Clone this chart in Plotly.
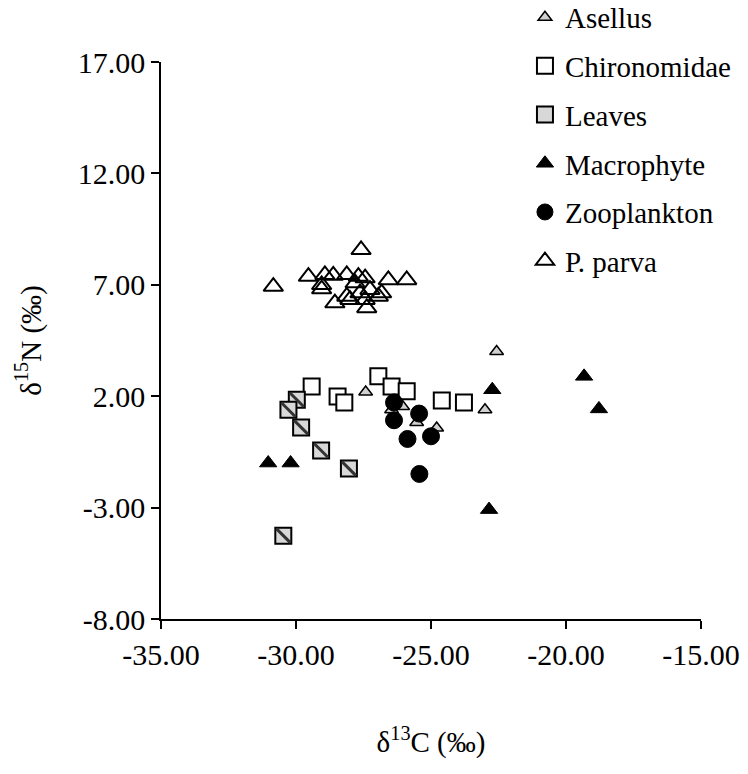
import plotly.graph_objects as go

# Stable isotope values (δ13C, δ15N) per taxon / source
asellus_c = [-27.42, -26.05, -26.46, -25.53, -24.79, -23.00, -22.57]
asellus_n = [2.19, 1.54, 1.39, 0.82, 0.57, 1.39, 4.01]

chiro_c = [-29.42, -28.46, -28.21, -26.95, -26.46, -25.90, -24.60, -23.78]
chiro_n = [2.44, 1.99, 1.72, 2.89, 2.44, 2.22, 1.81, 1.72]

leaves_c = [-29.97, -30.28, -29.81, -29.07, -28.04, -30.47]
leaves_n = [1.84, 1.39, 0.60, -0.44, -1.25, -4.26]

macro_c = [-31.03, -30.20, -22.73, -19.33, -18.78, -22.85]
macro_n = [-1.00, -1.00, 2.29, 2.89, 1.43, -3.09]

zoo_c = [-26.37, -25.44, -26.37, -25.87, -25.00, -25.43]
zoo_n = [1.72, 1.22, 0.92, 0.08, 0.20, -1.49]

parva_c = [-30.84, -27.59, -29.54, -28.93, -28.62, -28.12, -27.69, -27.44,
           -26.58, -25.90, -29.05, -29.05, -28.56, -28.12, -27.81, -28.00,
           -27.63, -27.44, -27.38, -27.26, -26.95, -26.83]
parva_n = [6.92, 8.57, 7.37, 7.45, 7.42, 7.45, 7.37, 7.30,
           7.22, 7.22, 7.00, 6.81, 6.18, 6.48, 7.08, 6.33,
           6.63, 6.33, 5.96, 6.78, 6.48, 6.63]

x_ticks = [-35, -30, -25, -20, -15]
y_ticks = [-8, -3, 2, 7, 12, 17]
x_labels = [f"{v:.2f}" for v in x_ticks]   # plain hyphen-minus
y_labels = [f"{v:.2f}" for v in y_ticks]

FONT = "Liberation Serif"

fig = go.Figure()

fig.add_trace(go.Scatter(
    x=asellus_c, y=asellus_n, mode="markers", name="Asellus", legendgroup="a",
    marker=dict(symbol="triangle-up", size=12, color="#d0d0d0",
                line=dict(color="black", width=1.5))))

fig.add_trace(go.Scatter(
    x=chiro_c, y=chiro_n, mode="markers", name="Chironomidae", legendgroup="b",
    marker=dict(symbol="square", size=16, color="white",
                line=dict(color="black", width=2))))

fig.add_trace(go.Scatter(
    x=leaves_c, y=leaves_n, mode="markers", name="Leaves", legendgroup="c",
    marker=dict(symbol="square", size=16, color="#d8d8d8",
                line=dict(color="black", width=2))))
# diagonal hatch stripe drawn over the leaf squares
fig.add_trace(go.Scatter(
    x=leaves_c, y=leaves_n, mode="markers", legendgroup="c", showlegend=False,
    hoverinfo="skip",
    marker=dict(symbol="line-nw", size=14, color="#333333",
                line=dict(color="#333333", width=3))))

fig.add_trace(go.Scatter(
    x=macro_c, y=macro_n, mode="markers", name="Macrophyte", legendgroup="d",
    marker=dict(symbol="triangle-up", size=15, color="black",
                line=dict(color="black", width=1))))

fig.add_trace(go.Scatter(
    x=zoo_c, y=zoo_n, mode="markers", name="Zooplankton", legendgroup="e",
    marker=dict(symbol="circle", size=17, color="black",
                line=dict(color="black", width=1))))

fig.add_trace(go.Scatter(
    x=parva_c, y=parva_n, mode="markers", name="P. parva", legendgroup="f",
    marker=dict(symbol="triangle-up", size=17, color="rgba(255,255,255,0)",
                line=dict(color="black", width=2))))

axis_common = dict(
    showgrid=False, zeroline=False, showline=True, linecolor="black",
    linewidth=1.5, ticks="outside", ticklen=8, tickwidth=1.5,
    tickcolor="black",
    tickfont=dict(family=FONT, size=30, color="black"))

fig.update_xaxes(range=[-35, -15], tickvals=x_ticks, ticktext=x_labels,
                 title=dict(text="δ<sup>13</sup>C (‰)", standoff=62,
                            font=dict(family=FONT, size=29, color="black")),
                 **axis_common)
fig.update_yaxes(range=[-8, 17], tickvals=y_ticks, ticktext=y_labels,
                 title=dict(text="δ<sup>15</sup>N (‰)", standoff=28,
                            font=dict(family=FONT, size=29, color="black")),
                 **axis_common)

fig.update_layout(
    width=748, height=774,
    margin=dict(l=161, r=47, t=62, b=155, pad=0, autoexpand=False),
    plot_bgcolor="white", paper_bgcolor="white",
    font=dict(family=FONT, color="black"),
    legend=dict(x=0.674, y=1.126, xanchor="left", yanchor="top",
                traceorder="grouped", tracegroupgap=8,
                font=dict(family=FONT, size=29, color="black"),
                bgcolor="rgba(255,255,255,0)"),
)

fig.write_html("out.html")
